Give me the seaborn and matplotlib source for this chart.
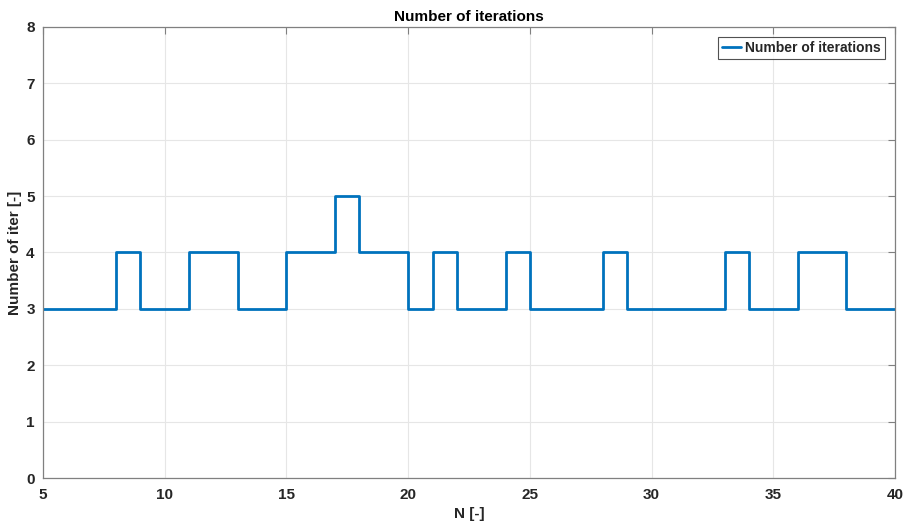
import matplotlib
matplotlib.use("Agg")
import matplotlib.pyplot as plt
import seaborn as sns
import pandas as pd

N = list(range(5, 41))
iterations = [3, 3, 3, 4, 3, 3, 4, 4, 3, 3, 4, 4, 5, 4, 4, 3, 4, 3, 3, 4,
              3, 3, 3, 4, 3, 3, 3, 3, 4, 3, 3, 4, 4, 3, 3, 3]
x_ticks = [5, 10, 15, 20, 25, 30, 35, 40]
y_ticks = [0, 1, 2, 3, 4, 5, 6, 7, 8]

df = pd.DataFrame({"N": N, "iter": iterations})

sns.set_style("white")
plt.rcParams['font.family'] = ['Liberation Sans', 'DejaVu Sans']

fig = plt.figure(figsize=(9.08, 5.29), dpi=100)
ax = fig.add_axes([0.0474, 0.0964, 0.9383, 0.8526])

sns.lineplot(data=df, x="N", y="iter", ax=ax, drawstyle="steps-post",
             color="#0072BD", linewidth=2.0, label="Number of iterations")

ax.set_xlim(5, 40)
ax.set_ylim(0, 8)
ax.set_xticks(x_ticks)
ax.set_yticks(y_ticks)
ax.grid(True, color="#e6e6e6", linewidth=0.8)
ax.set_axisbelow(True)
for s in ax.spines.values():
    s.set_color("#808080")
    s.set_linewidth(0.9)
ax.tick_params(axis="both", direction="in", length=5, color="#808080",
               labelsize=11, labelcolor="#262626", top=True, right=True,
               labeltop=False, labelright=False)
ax.tick_params(axis="x", pad=7)
ax.tick_params(axis="y", pad=6)
for lab in ax.get_xticklabels() + ax.get_yticklabels():
    lab.set_fontweight("bold")

ax.set_title("Number of iterations", fontsize=11, fontweight="bold", color="black", pad=4)
ax.set_xlabel("N [-]", fontsize=11, fontweight="bold", color="#262626", labelpad=4)
ax.set_ylabel("Number of iter [-]", fontsize=11, fontweight="bold", color="#262626", labelpad=3)

leg = ax.legend(loc="upper right", fontsize=10, prop={"weight": "bold", "size": 10},
                frameon=True, fancybox=False, handlelength=1.4, handletextpad=0.3,
                borderpad=0.3, borderaxespad=0.7)
leg.get_frame().set_edgecolor("#262626")
leg.get_frame().set_linewidth(0.8)

fig.savefig("out.png", dpi=100)
